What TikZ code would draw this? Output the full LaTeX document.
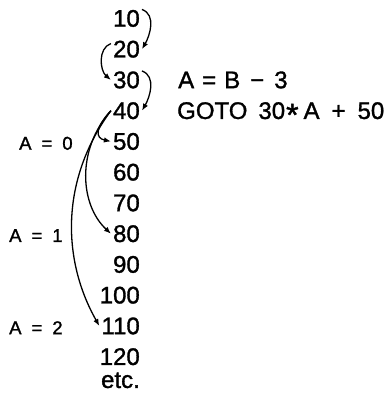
\documentclass[tikz,border=0pt]{standalone}
\usepackage{fontspec}
\setmainfont{Liberation Sans}[FakeBold=1.3]
\usepackage{tikz}
\usetikzlibrary{arrows.meta,positioning}
\tikzset{
  stmt/.style={font=\fontsize{24}{24}\selectfont,inner sep=2pt},
  code/.style={font=\fontsize{24}{24}\selectfont,inner sep=0pt,anchor=base west},
  cond/.style={font=\fontsize{18.5}{18.5}\selectfont,inner sep=0pt,anchor=base west},
  jump/.style={-{Latex[length=7pt,width=5.5pt]},line width=1.3pt}
}

\begin{document}
\begin{tikzpicture}[x=1pt,y=1pt]
  \useasboundingbox (0,0) rectangle (389,-393);

  % line numbers
  \node[stmt,anchor=base east] (n10) at (142,-26.7) {10};
  \node[stmt,below=30.75pt of n10.base east,anchor=base east] (n20) {20};
  \node[stmt,below=30.75pt of n20.base east,anchor=base east] (n30) {30};
  \node[stmt,below=30.75pt of n30.base east,anchor=base east] (n40) {40};
  \node[stmt,below=30.75pt of n40.base east,anchor=base east] (n50) {50};
  \node[stmt,below=30.75pt of n50.base east,anchor=base east] (n60) {60};
  \node[stmt,below=30.75pt of n60.base east,anchor=base east] (n70) {70};
  \node[stmt,below=30.75pt of n70.base east,anchor=base east] (n80) {80};
  \node[stmt,below=30.75pt of n80.base east,anchor=base east] (n90) {90};
  \node[stmt,below=30.75pt of n90.base east,anchor=base east] (n100) {100};
  \node[stmt,below=30.75pt of n100.base east,anchor=base east] (n110) {110};
  \node[stmt,below=30.75pt of n110.base east,anchor=base east] (n120) {120};
  \node[stmt,below=23pt of n120.base east,anchor=base east] (netc) {etc.};

  % the statements
  \node[code] (asgn) at (n30.base -| 178,0) {A\hspace{8pt}=\hspace{8pt}B\hspace{10pt}−\hspace{10pt}3};
  \node[code] (goto) at (n40.base -| 177,0) {GOTO\hspace{11pt}30\hspace{1pt}\raisebox{-0.55ex}{\fontsize{32}{32}\selectfont*}\hspace{5pt}A\hspace{12pt}+\hspace{12pt}50};

  % values of A
  \node[cond] (c0) at (n50.base -| 19,0) {A\hspace{10pt}=\hspace{10pt}0};
  \node[cond] (c1) at (n80.base -| 9,0) {A\hspace{10pt}=\hspace{10pt}1};
  \node[cond] (c2) at (n110.base -| 9,0) {A\hspace{10pt}=\hspace{10pt}2};

  \draw[jump] (n10.30) to[out=-20,in=60] (n20.east);
  \draw[jump] (n20.160) to[out=200,in=140] (n30.west);
  \draw[jump] (n30.30) to[out=-20,in=60] (n40.east);
  \draw[jump] (n40.west) .. controls (95,-128) and (95,-138) .. (n50.west);
  \draw[jump] (n40.west) .. controls (76,-150) and (80,-205) .. (n80.west);
  \draw[jump] (n40.west) .. controls (60,-180) and (62,-260) .. (n110.west);
\end{tikzpicture}
\end{document}
